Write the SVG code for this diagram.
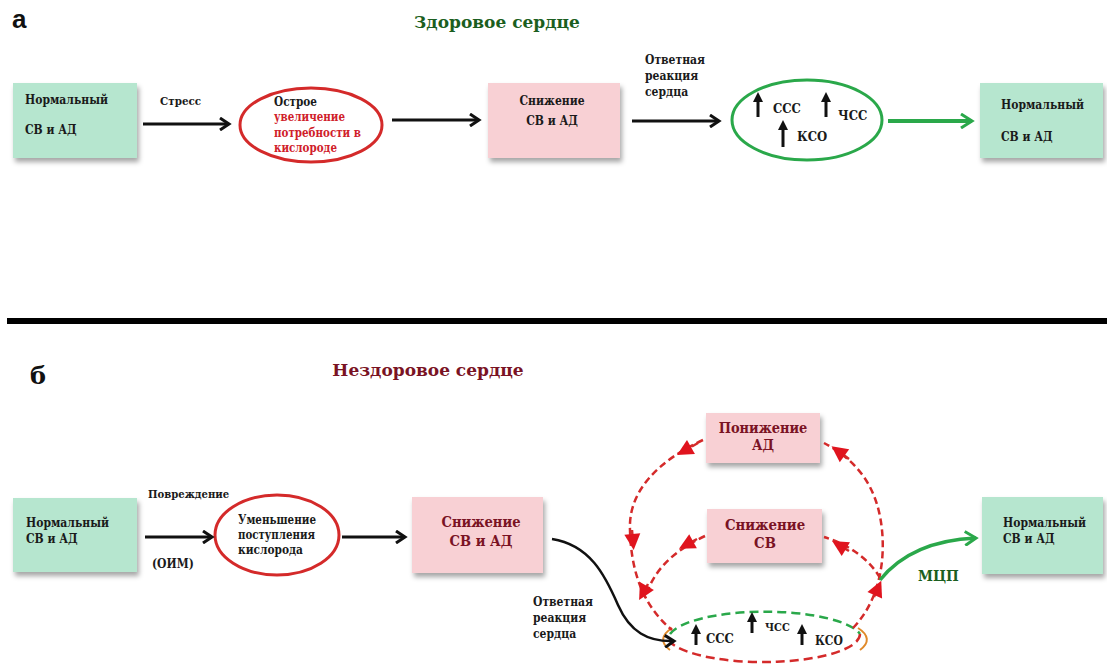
<svg xmlns="http://www.w3.org/2000/svg" width="1107" height="666" viewBox="0 0 1107 666">
<style>
.t{font-family:"DejaVu Serif Condensed","DejaVu Serif",serif;font-stretch:condensed;font-weight:bold;}
.d{font-family:"DejaVu Serif",serif;font-weight:bold;}
.n{font-size:12px;fill:#1a1a1a;}
.e{font-size:12px;}
.g{fill:#b6e6cf;}
.p{fill:#f8d0d4;}
.dr{fill:#7a1324;}
.red{fill:#d0202a;}
.blk{stroke:#111;stroke-width:3;fill:none;}
.dash{stroke:#d42a2a;stroke-width:2.5;fill:none;stroke-dasharray:7 4;}
.up{stroke:#111;stroke-width:3;fill:none;}
</style>
<defs>
<filter id="sh" x="-10%" y="-10%" width="130%" height="140%"><feDropShadow dx="2" dy="4" stdDeviation="2.5" flood-color="#000" flood-opacity="0.35"/></filter>
<marker id="ah" markerWidth="14" markerHeight="14" refX="11" refY="7" orient="auto" markerUnits="userSpaceOnUse"><path d="M2,1 L11,7 L2,13" fill="none" stroke="#111" stroke-width="3"/></marker>
<marker id="ahg" markerWidth="16" markerHeight="16" refX="13" refY="8" orient="auto" markerUnits="userSpaceOnUse"><path d="M2,1 L13,8 L2,15" fill="none" stroke="#2aa84a" stroke-width="3"/></marker>
<marker id="ahr" markerWidth="18" markerHeight="18" refX="9" refY="9" orient="auto" markerUnits="userSpaceOnUse"><path d="M1,1 L17,9 L1,17 Z" fill="#e0141e"/></marker>
<marker id="up" markerWidth="10" markerHeight="10" refX="5" refY="5" orient="auto" markerUnits="userSpaceOnUse"><path d="M0,0 L10,5 L0,10 Z" fill="#111"/></marker>
</defs>

<text x="12" y="28" font-family="Liberation Sans, Arial, sans-serif" font-weight="bold" style="font-size:26px;fill:#111">а</text>
<text x="497" y="28" text-anchor="middle" class="d" style="font-size:17px;fill:#1b5e20">Здоровое сердце</text>

<g id="a-normal1" class="t">
<rect x="13" y="83" width="124" height="75" class="g" filter="url(#sh)"/>
<text x="25" y="104" class="n">Нормальный</text>
<text x="25" y="134" class="n">СВ и АД</text>
</g>
<g id="a-demand" class="t">
<ellipse cx="311" cy="125" rx="71" ry="37" fill="#fff" stroke="#d42a2a" stroke-width="3"/>
<text x="274" y="106" class="n" textLength="43" lengthAdjust="spacingAndGlyphs">Острое</text>
<text x="274" y="121" class="n red" textLength="71" lengthAdjust="spacingAndGlyphs">увеличение</text>
<text x="274" y="137" class="n red" textLength="87" lengthAdjust="spacingAndGlyphs">потребности в</text>
<text x="274" y="152" class="n red" textLength="63" lengthAdjust="spacingAndGlyphs">кислороде</text>
</g>
<g id="a-decrease" class="t">
<rect x="488" y="83" width="132" height="75" class="p" filter="url(#sh)"/>
<text x="552" y="105" text-anchor="middle" class="n">Снижение</text>
<text x="552" y="125" text-anchor="middle" class="n">СВ и АД</text>
</g>
<g id="a-response" class="t">
<ellipse cx="807" cy="120" rx="75" ry="40" fill="#fff" stroke="#2aa84a" stroke-width="3"/>
<path d="M758,117 V97" class="up" marker-end="url(#up)"/>
<text x="773" y="113" class="n" style="font-size:13px">ССС</text>
<path d="M826,117 V97" class="up" marker-end="url(#up)"/>
<text x="838" y="120" class="n" style="font-size:13px">ЧСС</text>
<path d="M783,147 V125" class="up" marker-end="url(#up)"/>
<text x="797" y="141" class="n" style="font-size:13px">КСО</text>
</g>
<g id="a-normal2" class="t">
<rect x="980" y="83" width="123" height="75" class="g" filter="url(#sh)"/>
<text x="1001" y="109" class="n">Нормальный</text>
<text x="1001" y="141" class="n">СВ и АД</text>
</g>

<g id="a-connectors" class="t">
<path d="M143,124 H229" class="blk" marker-end="url(#ah)"/>
<text x="160" y="105" class="n" style="font-size:11.5px">Стресс</text>
<path d="M392,120 H479" class="blk" marker-end="url(#ah)"/>
<path d="M632,121 H719" class="blk" marker-end="url(#ah)"/>
<text x="645" y="64" class="n">Ответная</text>
<text x="645" y="80" class="n">реакция</text>
<text x="645" y="96" class="n">сердца</text>
<path d="M888,121 H972" stroke="#2aa84a" stroke-width="4" fill="none" marker-end="url(#ahg)"/>
</g>

<line x1="7" y1="321" x2="1107" y2="321" stroke="#000" stroke-width="6"/>

<text x="30" y="384" class="d" style="font-size:24px;fill:#111">б</text>
<text x="428" y="376" text-anchor="middle" class="d" style="font-size:17px;fill:#7a1324">Нездоровое сердце</text>

<g id="b-normal1" class="t">
<rect x="13" y="498" width="124" height="74" class="g" filter="url(#sh)"/>
<text x="26" y="527" class="n">Нормальный</text>
<text x="26" y="543" class="n">СВ и АД</text>
</g>
<g id="b-supply" class="t">
<ellipse cx="277" cy="535" rx="62" ry="40" fill="#fff" stroke="#d42a2a" stroke-width="3"/>
<text x="238" y="524" class="n" textLength="78" lengthAdjust="spacingAndGlyphs">Уменьшение</text>
<text x="238" y="539" class="n" textLength="77" lengthAdjust="spacingAndGlyphs">поступления</text>
<text x="238" y="554" class="n" textLength="65" lengthAdjust="spacingAndGlyphs">кислорода</text>
</g>
<g id="b-decrease" class="t">
<rect x="412" y="497" width="131" height="76" class="p" filter="url(#sh)"/>
<text x="481" y="527" text-anchor="middle" class="n dr" style="font-size:14.6px">Снижение</text>
<text x="481" y="546" text-anchor="middle" class="n dr" style="font-size:14.6px">СВ и АД</text>
</g>
<g id="b-bp" class="t">
<rect x="706" y="413" width="114" height="50" class="p" filter="url(#sh)"/>
<text x="763" y="433" text-anchor="middle" class="n dr" style="font-size:14.4px">Понижение</text>
<text x="763" y="450" text-anchor="middle" class="n dr" style="font-size:14.4px">АД</text>
</g>
<g id="b-co" class="t">
<rect x="707" y="509" width="115" height="54" class="p" filter="url(#sh)"/>
<text x="765" y="530" text-anchor="middle" class="n dr" style="font-size:14.8px">Снижение</text>
<text x="765" y="548" text-anchor="middle" class="n dr" style="font-size:14.8px">СВ</text>
</g>
<g id="b-response" class="t">
<path d="M670,634 A97,28 0 0 1 860,634" fill="none" stroke="#2aa84a" stroke-width="2.5" stroke-dasharray="9 5"/>
<path d="M860,634 A97,28 0 0 1 670,642" fill="none" stroke="#d42a2a" stroke-width="2.5" stroke-dasharray="9 5"/>
<path d="M672,628 A97,28 0 0 0 670,650" fill="none" stroke="#e08a2a" stroke-width="2"/>
<path d="M858,628 A97,28 0 0 1 860,650" fill="none" stroke="#e08a2a" stroke-width="2"/>
<path d="M696,645 V629" class="up" stroke-width="2.5" marker-end="url(#up)"/>
<text x="706" y="643" class="n" style="font-size:13px">ССС</text>
<path d="M752,633 V617" class="up" stroke-width="2.5" marker-end="url(#up)"/>
<text x="765" y="631" class="n" style="font-size:11px">ЧСС</text>
<path d="M802,645 V629" class="up" stroke-width="2.5" marker-end="url(#up)"/>
<text x="815" y="645" class="n">КСО</text>
</g>
<g id="b-normal2" class="t">
<rect x="982" y="497" width="121" height="77" class="g" filter="url(#sh)"/>
<text x="1003" y="527" class="n">Нормальный</text>
<text x="1003" y="543" class="n">СВ и АД</text>
</g>

<g id="b-connectors" class="t">
<path d="M145,537 H212" class="blk" stroke-width="3.5" marker-end="url(#ah)"/>
<text x="148" y="498" class="n" style="font-size:11.2px">Повреждение</text>
<text x="152" y="568" class="n">(ОИМ)</text>
<path d="M342,537 H405" class="blk" stroke-width="3.5" marker-end="url(#ah)"/>
<path d="M552,539 C590,545 605,575 618,605 C630,632 648,642 674,641" stroke="#111" stroke-width="2.5" fill="none" marker-end="url(#ah)"/>
<text x="533" y="606" class="n">Ответная</text>
<text x="533" y="622" class="n">реакция</text>
<text x="533" y="638" class="n">сердца</text>
<path d="M703,440 C660,460 628,490 630,530 C631,570 642,605 672,630" class="dash"/>
<path d="M698,443 L684,451" class="dash" marker-end="url(#ahr)"/>
<path d="M632,530 L633,542" class="dash" marker-end="url(#ahr)"/>
<path d="M705,536 C680,548 655,565 645,598" class="dash"/>
<path d="M697,539 L686,545" class="dash" marker-end="url(#ahr)"/>
<path d="M648,584 L643,593" class="dash" marker-end="url(#ahr)"/>
<path d="M853,628 C880,600 885,560 882,530 C878,490 860,462 824,443" class="dash"/>
<path d="M849,459 L838,451" class="dash" marker-end="url(#ahr)"/>
<path d="M874,597 L878,588" class="dash" marker-end="url(#ahr)"/>
<path d="M880,578 C870,560 850,545 824,537" class="dash"/>
<path d="M849,551 L839,545" class="dash" marker-end="url(#ahr)"/>
<path d="M880,580 C900,555 930,540 976,538" stroke="#2aa84a" stroke-width="3.5" fill="none" marker-end="url(#ahg)"/>
<text x="918" y="581" style="font-size:15px;fill:#1b5e20">МЦП</text>
</g>
</svg>
